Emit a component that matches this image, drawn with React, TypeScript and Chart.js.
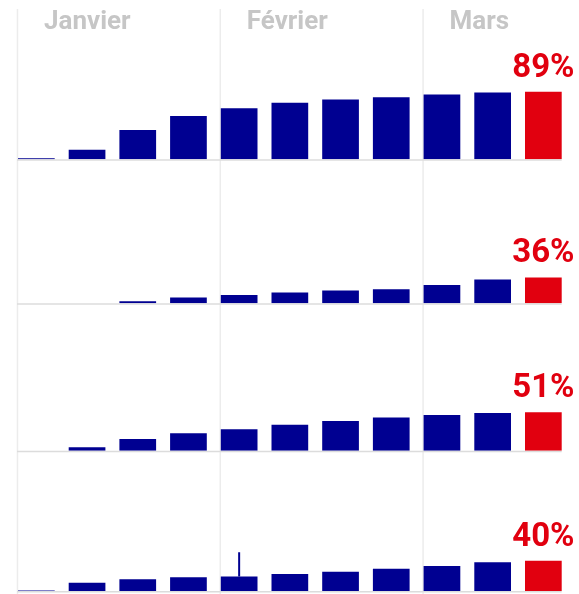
import React, { useEffect, useRef } from "react";
import { Chart, registerables } from "chart.js";

Chart.register(...registerables);

// ---- data ----
const weeks = ["S1", "S2", "S3", "S4", "S5", "S6", "S7", "S8", "S9", "S10", "S11"];
const months = ["Janvier", "Février", "Mars"];
const monthStartWeek = [0, 4, 8];

const panel1 = [1.5, 12.7, 38.8, 57.2, 67.2, 74.6, 79, 82, 85.5, 88, 89];
const panel2 = [0, 0, 2.7, 8.2, 11.4, 15, 17.8, 19.6, 25.5, 33, 36];
const panel3 = [0, 4.5, 15.7, 23.3, 28.6, 34.4, 39.4, 44.3, 47.4, 50, 51];
const panel4 = [0.5, 10.8, 15.5, 18, 19, 22.4, 25.4, 29.2, 33.1, 38, 40];
const panel4Range: (number[] | null)[] = [null, null, null, null, [19, 51], null, null, null, null, null, null];

// ---- style ----
const NAVY = "#000091";
const RED = "#E1000F";
const panelIds = ["p0", "p1", "p2", "p3"];
const panelWeights = [144, 144, 147.4, 140.3];
const panelMax = [190, 200, 196, 185];

const barColors = (arr: number[]) => arr.map((_, i) => (i === arr.length - 1 ? RED : NAVY));

const overlay = {
  id: "overlay",
  beforeDatasetsDraw(chart: any) {
    const ctx = chart.ctx;
    const xs = chart.scales.x;
    const meta = chart.getDatasetMeta(0);
    const first = meta.data[0];
    const last = meta.data[meta.data.length - 1];
    const bw = first.width;
    ctx.save();
    ctx.strokeStyle = "#ececec";
    ctx.lineWidth = 1.5;
    monthStartWeek.forEach((w) => {
      const px = xs.getPixelForValue(w) - bw / 2 - 0.5;
      ctx.beginPath();
      ctx.moveTo(px, 9);
      ctx.lineTo(px, chart.height);
      ctx.stroke();
    });
    ctx.strokeStyle = "#dcdcdc";
    ctx.lineWidth = 1.5;
    panelIds.forEach((id) => {
      const s = chart.scales[id];
      const y = s.bottom + 0.8;
      ctx.beginPath();
      ctx.moveTo(first.x - bw / 2 - 1, y);
      ctx.lineTo(last.x + bw / 2, y);
      ctx.stroke();
    });
    ctx.restore();
  },
  afterDatasetsDraw(chart: any) {
    const ctx = chart.ctx;
    const xs = chart.scales.x;
    const meta0 = chart.getDatasetMeta(0);
    const bw = meta0.data[0].width;
    ctx.save();
    ctx.font = "bold 26px Roboto";
    ctx.fillStyle = "#c6c6c6";
    ctx.textAlign = "left";
    ctx.textBaseline = "alphabetic";
    months.forEach((m, i) => {
      const px = xs.getPixelForValue(monthStartWeek[i]) - bw / 2;
      ctx.fillText(m, px + 26, 28.5);
    });
    ctx.font = "bold 33px Roboto";
    ctx.fillStyle = RED;
    ctx.textAlign = "center";
    for (let d = 0; d < 4; d++) {
      const meta = chart.getDatasetMeta(d);
      const data = chart.data.datasets[d].data as number[];
      const el = meta.data[data.length - 1];
      ctx.fillText(`${data[data.length - 1]}%`, el.x, el.y - 15);
    }
    ctx.restore();
  },
};

export default function App() {
  const ref = useRef<HTMLCanvasElement | null>(null);
  useEffect(() => {
    if (!ref.current) return;
    const series = [panel1, panel2, panel3, panel4];
    const datasets: any[] = series.map((s, i) => ({
      type: "bar",
      data: s,
      yAxisID: panelIds[i],
      backgroundColor: barColors(s),
      borderWidth: 0,
      grouped: false,
      barPercentage: 0.724,
      categoryPercentage: 1,
    }));
    datasets.push({
      type: "bar",
      data: panel4Range,
      yAxisID: "p3",
      backgroundColor: NAVY,
      borderWidth: 0,
      grouped: false,
      maxBarThickness: 2,
    });
    const scales: any = {
      x: { display: false, grid: { display: false } },
    };
    panelIds.forEach((id, i) => {
      scales[id] = {
        display: false,
        position: "left",
        stack: "panels",
        stackWeight: panelWeights[i],
        weight: 4 - i,
        min: 0,
        max: panelMax[i],
        grid: { display: false },
      };
    });
    const chart = new Chart(ref.current, {
      type: "bar",
      data: { labels: weeks, datasets },
      options: {
        animation: false,
        responsive: true,
        maintainAspectRatio: false,
        events: [],
        layout: { padding: { left: 11, right: 10.3, top: 15.3, bottom: 3 } },
        plugins: { legend: { display: false }, tooltip: { enabled: false } },
        scales,
      },
      plugins: [overlay],
    } as any);
    return () => chart.destroy();
  }, []);
  return (
    <div style={{ position: "absolute", left: 0, top: 0, width: 579, height: 594, background: "#fff" }}>
      <canvas ref={ref} />
    </div>
  );
}
